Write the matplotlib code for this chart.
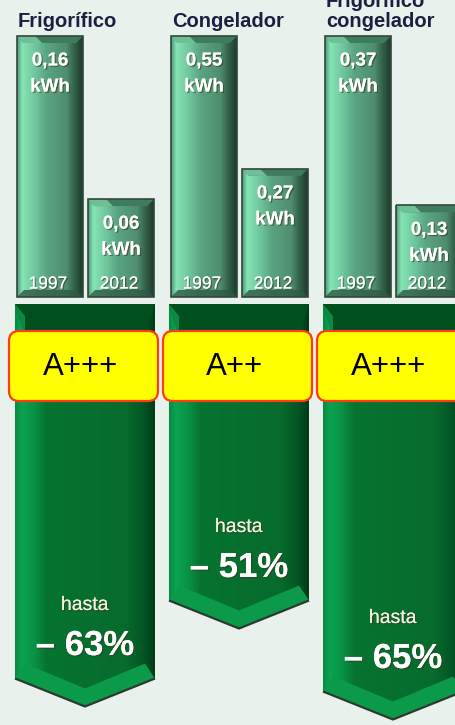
import numpy as np
import matplotlib
matplotlib.use('Agg')
from matplotlib import pyplot as plt
from matplotlib.patches import Polygon, FancyBboxPatch
from matplotlib.colors import LinearSegmentedColormap
import matplotlib.patheffects as pe

categories = ['Frigorífico', 'Congelador', 'Frigorífico\ncongelador']
years = ['1997', '2012']
kwh_1997 = [0.16, 0.55, 0.37]
kwh_2012 = [0.06, 0.27, 0.13]
energy_class = ['A+++', 'A++', 'A+++']
reduction = [63, 51, 65]

# layout in pixel units of the 456x725 canvas
W, H = 456, 725
bg = '#e9f1ed'
group_left = 17
group_pitch = 154
bar_w = 66
bar_gap = 5
bar_base = 297
bar_full = 261          # height of the 1997 bar, 2012 bar is scaled to it
arrow_top = 304
px_per_pct = 6.5
px_offset = -35
tip_depth = 28

bar_cmap = LinearSegmentedColormap.from_list('bar', [
    (0.0, '#4c9574'), (0.08, '#86e4b5'), (0.28, '#6ec69c'), (0.45, '#5aa482'),
    (0.75, '#4f8d6f'), (0.88, '#315e47'), (1.0, '#1d3b2b')])
arrow_cmap = LinearSegmentedColormap.from_list('arrow', [
    (0.0, '#0b8a43'), (0.05, '#0aa452'), (0.14, '#089043'), (0.22, '#077431'),
    (0.8, '#066b2d'), (0.92, '#045525'), (1.0, '#013c17')])
grad = np.linspace(0, 1, 256).reshape(1, -1)

fig = plt.figure(figsize=(W / 100, H / 100), dpi=100, facecolor=bg)
ax = fig.add_axes([0, 0, 1, 1])
ax.set_facecolor(bg)

shadow = [pe.withSimplePatchShadow(offset=(1, -1), shadow_rgbFace='#3a3a20', alpha=0.6), pe.Normal()]


def gradient_patch(verts, cmap, z):
    patch = Polygon(verts, closed=True, facecolor='none', edgecolor='none', zorder=z)
    ax.add_patch(patch)
    xs = [v[0] for v in verts]
    ys = [v[1] for v in verts]
    im = ax.imshow(grad, cmap=cmap, extent=(min(xs), max(xs), max(ys), min(ys)),
                   aspect='auto', zorder=z, interpolation='bilinear')
    im.set_clip_path(patch)
    return patch


def draw_bar(x0, top, year, value):
    x1 = x0 + bar_w
    verts = [(x0, top), (x1, top), (x1, bar_base), (x0, bar_base)]
    gradient_patch(verts, bar_cmap, 2)
    b = 7
    ax.add_patch(Polygon([(x0, top), (x1, top), (x1 - b, top + b), (x0 + b, top + b)],
                         facecolor='#3f7c5e', edgecolor='none', zorder=3))
    ax.add_patch(Polygon([(x0, top), (x0 + b, top + b), (x0 + b + 18, top + b), (x0 + 18, top)],
                         facecolor='#6fbf97', edgecolor='none', zorder=3))
    ax.add_patch(Polygon([(x0, bar_base), (x1, bar_base), (x1 - b, bar_base - b), (x0 + b, bar_base - b)],
                         facecolor='#2e5a44', edgecolor='none', zorder=3, alpha=0.8))
    ax.add_patch(Polygon(verts, closed=True, facecolor='none', edgecolor='#33483d', lw=1.2, zorder=4))
    xc = (x0 + x1) / 2
    label = '{:.2f}'.format(value).replace('.', ',')
    ax.text(xc, top + 25, label, ha='center', va='center', color='white', fontsize=13.5,
            fontweight='bold', family='Liberation Sans', zorder=5, path_effects=shadow)
    ax.text(xc, top + 51, 'kWh', ha='center', va='center', color='white', fontsize=13.5,
            fontweight='bold', family='Liberation Sans', zorder=5, path_effects=shadow)
    ax.text(xc - 2, bar_base - 13, year, ha='center', va='center', color='white', fontsize=12.5,
            family='Liberation Sans', zorder=5, path_effects=shadow)


for i, cat in enumerate(categories):
    x0 = group_left + i * group_pitch
    # title
    ax.text(x0 + 1, 31, cat, ha='left', va='bottom', color='#1c2040', fontsize=14.5,
            fontweight='bold', family='Liberation Sans', linespacing=1.1, zorder=5)
    # bars
    h12 = bar_full * kwh_2012[i] / kwh_1997[i]
    draw_bar(x0, bar_base - bar_full, years[0], kwh_1997[i])
    draw_bar(x0 + bar_w + bar_gap, bar_base - h12, years[1], kwh_2012[i])

    # arrow, length grows with the reduction
    ax0 = x0 - 2
    ax1 = x0 + 2 * bar_w + bar_gap + 1
    axc = (ax0 + ax1) / 2
    shoulder = arrow_top + px_offset + px_per_pct * reduction[i]
    tip = shoulder + tip_depth
    arrow = [(ax0, arrow_top), (ax1, arrow_top), (ax1, shoulder), (axc, tip), (ax0, shoulder)]
    gradient_patch(arrow, arrow_cmap, 2)
    t = 32
    ax.add_patch(Polygon([(ax0, arrow_top), (ax1, arrow_top), (ax1 - 10, arrow_top + t), (ax0 + 10, arrow_top + t)],
                         facecolor='#00501f', edgecolor='none', zorder=3))
    ax.add_patch(Polygon([(ax0, arrow_top), (ax0 + 10, arrow_top + t), (ax0 + 10, arrow_top + 12)],
                         facecolor='#0a8a42', edgecolor='none', zorder=3))
    f = 15
    ax.add_patch(Polygon([(ax0, shoulder), (axc, tip), (ax1, shoulder),
                          (ax1 - 10, shoulder - f), (axc, tip - f - 3), (ax0 + 10, shoulder - f)],
                         facecolor='#0b9a49', edgecolor='none', zorder=3))
    ax.plot([ax0, axc, ax1], [shoulder, tip, shoulder], color='#2a3a2e', lw=1.6, zorder=4,
            solid_capstyle='butt')
    ax.plot([ax0, ax0], [arrow_top, shoulder], color='#c8d6ce', lw=1.0, zorder=1)

    # energy class label
    lab = FancyBboxPatch((ax0 - 6, 331), (ax1 - ax0) + 9, 70,
                         boxstyle='round,pad=0,rounding_size=10',
                         facecolor='#ffff00', edgecolor='#ff3c14', lw=1.6, zorder=6)
    ax.add_patch(lab)
    ax.text(axc - 4, 367, energy_class[i], ha='center', va='center', color='black',
            fontsize=22.5, family='Liberation Sans', zorder=7)

    # reduction text
    ax.text(axc, shoulder - 73, 'hasta', ha='center', va='center', color='#f4f4e0',
            fontsize=14, family='Liberation Sans', zorder=5, path_effects=shadow)
    ax.text(axc, shoulder - 33, '\u2013 {}%'.format(reduction[i]), ha='center', va='center',
            color='white', fontsize=25, fontweight='bold', family='Liberation Sans', zorder=5,
            path_effects=shadow)

ax.set_xlim(0, W)
ax.set_ylim(H, 0)
ax.set_aspect('auto')
ax.axis('off')
fig.savefig('out.png', dpi=100, facecolor=bg)
